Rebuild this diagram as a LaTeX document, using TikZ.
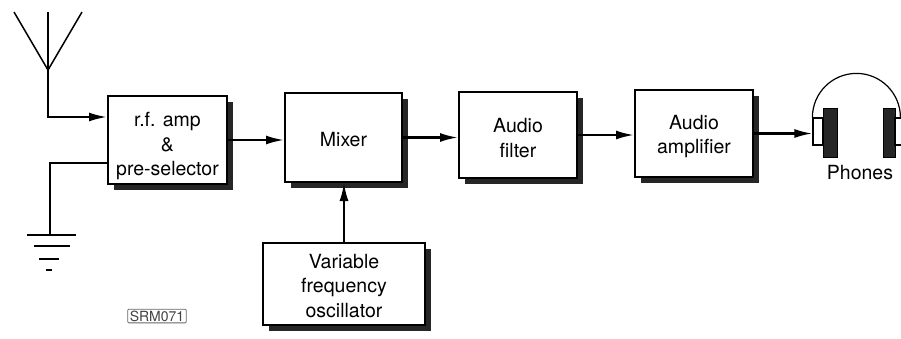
\documentclass[tikz,border=0pt]{standalone}
\usepackage{fontspec}
\setmainfont{TeX Gyre Heros}
\usetikzlibrary{arrows.meta,shadows}
\newcommand{\dnstrut}[1]{\rule{0pt}{#1}}
\tikzset{
  block/.style={draw, line width=2pt, fill=white, align=center, inner sep=0pt,
    font=\fontsize{19.5}{24.5}\selectfont,
    drop shadow={shadow xshift=6pt, shadow yshift=-6pt, fill=black!85, opacity=1}},
  cup/.style={draw, fill=black!85, inner sep=0pt, line width=0.5pt},
  pad/.style={draw, fill=white, inner sep=0pt, line width=1.2pt},
}
\begin{document}
\begin{tikzpicture}[x=1pt, y=-1pt, line width=2.2pt, >={Latex[length=18pt,width=9pt]}]
\useasboundingbox (0,0) rectangle (901,338);
\node[block, minimum width=119pt, minimum height=88pt] (rf) at (167.5,140) {\dnstrut{27pt}r.f. amp\\\&\\pre-selector};
\node[block, minimum width=117pt, minimum height=89pt] (mixer) at (343.5,137.5) {\dnstrut{18pt}Mixer};
\node[block, minimum width=118pt, minimum height=86pt] (filter) at (518,135) {\dnstrut{20pt}Audio\\filter};
\node[block, minimum width=118pt, minimum height=87pt] (amp) at (694,133.5) {\dnstrut{20pt}Audio\\amplifier};
\node[block, minimum width=162pt, minimum height=82pt] (vfo) at (344,284) {\dnstrut{18pt}Variable\\frequency\\oscillator};
\node[pad, minimum width=10pt, minimum height=27pt] (lpad) at (818,131.5) {};
\node[cup, minimum width=14pt, minimum height=49pt] (lcup) at (830,132.5) {};
\node[cup, minimum width=12pt, minimum height=49pt] (rcup) at (889,132.5) {};
\node[pad, minimum width=10pt, minimum height=27pt] (rpad) at (900,131.5) {};
\node[font=\fontsize{19.5}{22}\selectfont] (phones) at (860,173) {Phones};
\node[draw=black!60, line width=0.8pt, rounded corners=1pt, inner xsep=2pt, inner ysep=1.5pt,
  text=black!75, font=\fontsize{14}{15}\selectfont] (srm) at (157,316) {SRM071};
\coordinate (ant) at (48,70);
\coordinate (rfin) at ([yshift=23pt]rf.west);
\coordinate (rfgnd) at ([yshift=-23pt]rf.west);
\coordinate (gnd) at (50,235);
\draw[line width=1.5pt] (14,12) -- (ant) -- (82,12);
\draw[line width=1.5pt] (48,12) -- (ant);
\draw[->] (ant) |- (rfin);
\draw (rfgnd) -| (gnd);
\draw (27,235) -- (76,235);
\draw[line width=2.6pt] (34,246) -- (70,246);
\draw[line width=2.6pt] (39,259) -- (59,259);
\draw[line width=1.2pt] (46,270) -- (52,270);
\draw[->] (rf.east) -- (rf.east -| mixer.west);
\draw[->] (mixer.east) -- (mixer.east -| filter.west);
\draw[->] (filter.east) -- (filter.east -| amp.west);
\draw[->] (amp.east) -- (amp.east -| lpad.west);
\draw[->] (vfo.north) -- (vfo.north |- mixer.south);
\draw[line width=1.2pt] (lpad.north west) arc[start angle=180, end angle=0, radius=44pt];
\end{tikzpicture}
\end{document}
